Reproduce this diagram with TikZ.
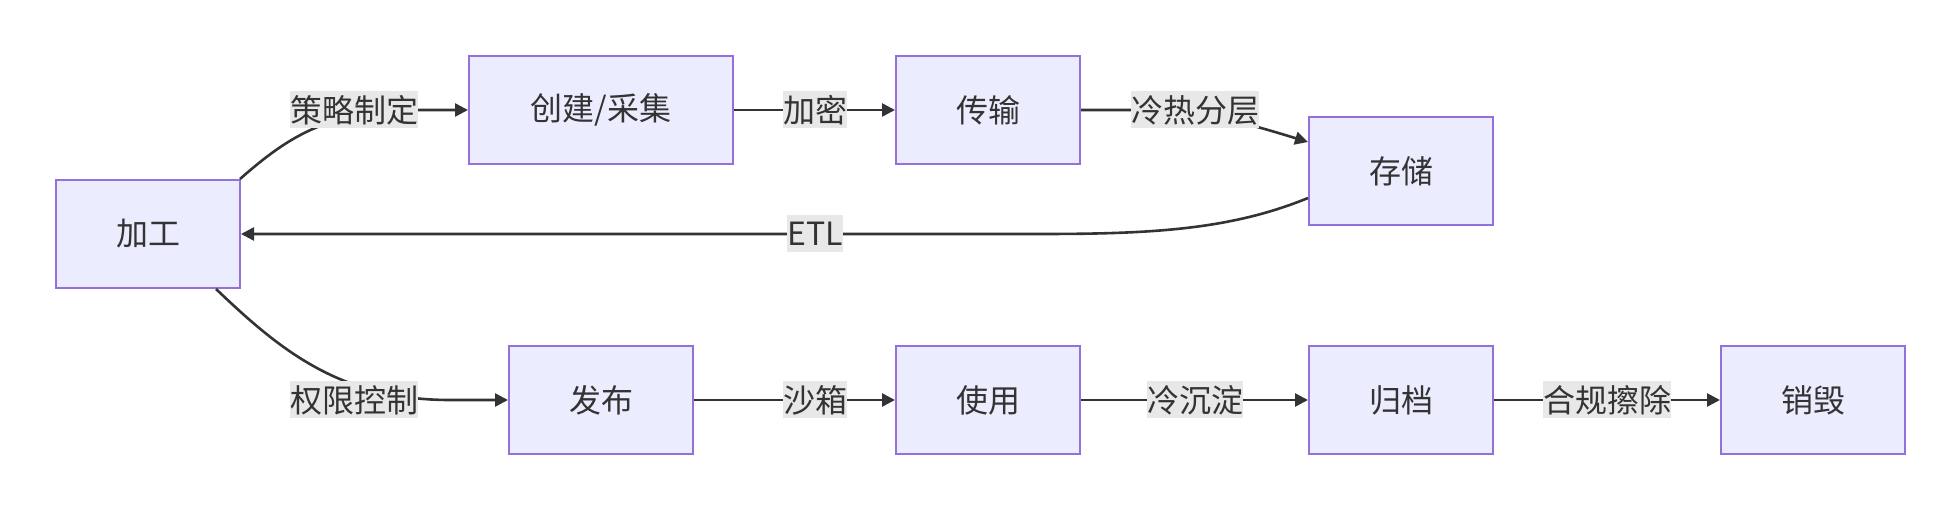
\documentclass[tikz,border=0pt]{standalone}
\usepackage{fontspec}
\setmainfont{Noto Sans CJK SC}
\usetikzlibrary{arrows.meta}
\definecolor{boxfill}{HTML}{ECECFF}
\definecolor{boxline}{HTML}{9370DB}
\definecolor{edgec}{HTML}{333333}
\definecolor{lblbg}{HTML}{E8E8E8}
\begin{document}
\begin{tikzpicture}[x=1pt,y=-1pt,
  stagebox/.style={draw=boxline,fill=boxfill,line width=2pt,minimum width=184pt,minimum height=108pt,inner sep=0pt,text=edgec,font=\fontsize{32}{38}\selectfont},
  elabel/.style={fill=lblbg,inner xsep=0pt,inner ysep=0pt,minimum height=37pt,text=edgec,font=\fontsize{32}{38}\selectfont},
  flow/.style={draw=edgec,line width=2.6pt,-{Triangle[length=13pt,width=13pt]}}]
\useasboundingbox (0,0) rectangle (1960,510);
\node[stagebox] (jg) at (148,234) {加工};
\node[stagebox,minimum width=264pt] (cj) at (601,110) {创建/采集};
\node[stagebox] (cs) at (988,110) {传输};
\node[stagebox] (cc) at (1401,171) {存储};
\node[stagebox] (fb) at (601,400) {发布};
\node[stagebox] (sy) at (988,400) {使用};
\node[stagebox] (gd) at (1401,400) {归档};
\node[stagebox] (xh) at (1813,400) {销毁};
% edges
\draw[flow] ([xshift=-1pt]jg.north east) .. controls (290,135) and (330,110) .. (420,110) -- (cj.west);
\draw[flow] (cj.east) -- (cs.west);
\draw[flow] (cs.east) -- (1140,110) .. controls (1190,110) and (1220,115) .. ([yshift=29pt]cc.west);
\draw[flow] ([yshift=-27pt]cc.west) .. controls (1230,230) and (1150,234) .. (1040,234) -- (jg.east);
\draw[flow] ([xshift=-25pt]jg.south east) .. controls (280,350) and (340,400) .. (450,400) -- (fb.west);
\draw[flow] (fb.east) -- (sy.west);
\draw[flow] (sy.east) -- (gd.west);
\draw[flow] (gd.east) -- (xh.west);
% labels
\node[elabel] (l1) at (354,110) {策略制定};
\node[elabel] (l2) at (815,110) {加密};
\node[elabel] (l3) at (1195,110) {冷热分层};
\node[elabel] (l4) at (815,234) {ETL};
\node[elabel] (l5) at (354,400) {权限控制};
\node[elabel] (l6) at (815,400) {沙箱};
\node[elabel] (l7) at (1195,400) {冷沉淀};
\node[elabel] (l8) at (1607,400) {合规擦除};
\end{tikzpicture}
\end{document}
